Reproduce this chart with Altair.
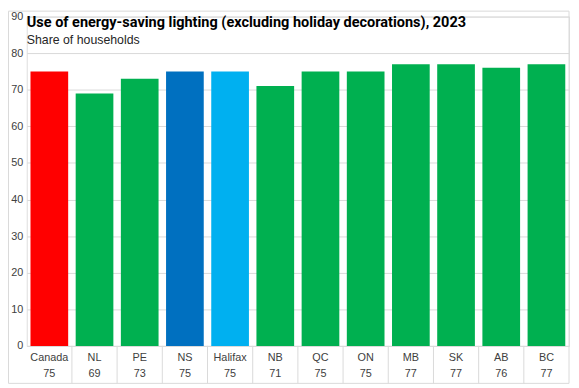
import altair as alt
import pandas as pd

categories = ["Canada", "NL", "PE", "NS", "Halifax", "NB", "QC", "ON", "MB", "SK", "AB", "BC"]
values = [75, 69, 73, 75, 75, 71, 75, 75, 77, 77, 76, 77]
colors = ["#FF0000", "#00B050", "#00B050", "#0070C0", "#00B0F0", "#00B050",
          "#00B050", "#00B050", "#00B050", "#00B050", "#00B050", "#00B050"]
y_ticks = [0, 10, 20, 30, 40, 50, 60, 70, 80, 90]

df = pd.DataFrame({"cat": categories, "val": values, "color": colors})
df_div = df.iloc[:-1]

W, H = 550, 334
GRID = "#D9D9D9"
TXT = "#404040"
FONT = "Liberation Sans"

xs = alt.Scale(domain=categories, paddingInner=0, paddingOuter=0)

base = alt.Chart(df)

bars = base.mark_bar(width=alt.RelativeBandSize(0.834)).encode(
    x=alt.X("cat:N", scale=xs, sort=categories,
            axis=alt.Axis(title=None, labelAngle=0, ticks=False, domain=False,
                          labelPadding=6, labelFontSize=11, labelColor=TXT,
                          labelFont=FONT)),
    y=alt.Y("val:Q", scale=alt.Scale(domain=[0, 90], nice=False),
            axis=alt.Axis(title=None, values=y_ticks, ticks=False, domain=False,
                          gridColor=GRID, labelPadding=4, labelFontSize=11,
                          labelColor=TXT, labelFont=FONT)),
    color=alt.Color("color:N", scale=None),
)

dividers = alt.Chart(df_div).mark_rule(color=GRID, strokeWidth=1).encode(
    x=alt.X("cat:N", scale=xs, sort=categories, bandPosition=1),
    y=alt.value(H),
    y2=alt.value(H + 38),
)

value_row = base.mark_text(fontSize=11, color=TXT, baseline="middle", font=FONT).encode(
    x=alt.X("cat:N", scale=xs, sort=categories),
    y=alt.value(H + 29),
    text=alt.Text("val:Q"),
)

frame = alt.Chart(pd.DataFrame({"k": [0]})).mark_rect(
    fillOpacity=0, stroke=GRID, strokeWidth=1
).encode(
    x=alt.value(-18.5), x2=alt.value(W), y=alt.value(-5.5), y2=alt.value(H + 38)
)

chart = alt.layer(frame, bars, dividers, value_row).properties(
    width=W, height=H,
    autosize=alt.AutoSizeParams(type="none"),
    padding={"left": 19, "top": 6, "right": 2, "bottom": 40},
    title=alt.TitleParams(
        text="Use of energy-saving lighting (excluding holiday decorations), 2023",
        subtitle="Share of households",
        anchor="start", frame="group", orient="top", offset=-36,
        font="Roboto", fontSize=14.7, fontWeight="bold", color="#000000",
        subtitleFont=FONT, subtitleFontSize=12.5, subtitleColor="#262626",
        subtitlePadding=4,
    ),
).configure_view(stroke=None).configure(background="white")

chart.save("out.html", embed_options={"renderer": "svg", "actions": False})
